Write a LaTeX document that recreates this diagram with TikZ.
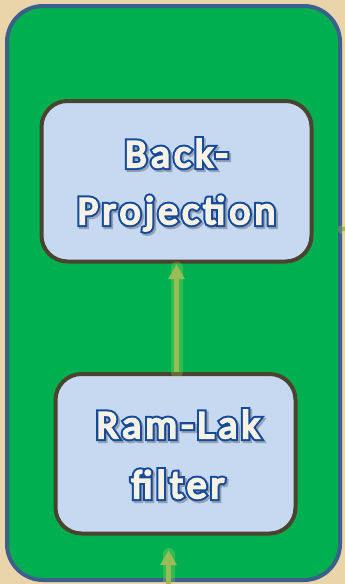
\documentclass[tikz,border=0pt]{standalone}
\usepackage{fontspec}
\setmainfont{Carlito}
\newfontfamily\strokefont[LetterSpace=10,FakeBold=15]{Carlito}
\newfontfamily\shadefont[LetterSpace=10,FakeBold=15]{Carlito}
\newfontfamily\labelfont[LetterSpace=10,FakeBold=5]{Carlito}
\usetikzlibrary{arrows.meta}

\definecolor{parchment}{HTML}{E9D5A9}
\definecolor{framegreen}{HTML}{00B050}
\definecolor{frameblue}{HTML}{3C5F8C}
\definecolor{boxfill}{HTML}{C6D9F1}
\definecolor{boxedge}{HTML}{4A4330}
\definecolor{arrowgreen}{HTML}{9BBB59}
\definecolor{glowgreen}{HTML}{C4E05A}
\definecolor{textcream}{HTML}{F6F3E6}
\definecolor{textblue}{HTML}{15499A}
\definecolor{shadowgray}{HTML}{95A0B2}

\tikzset{
  frame/.style={draw=frameblue, fill=framegreen, line width=4pt,
    rounded corners=36pt, inner sep=0pt},
  stepbox/.style={draw=boxedge, fill=boxfill, line width=4pt,
    rounded corners=26pt, inner sep=0pt},
  lbl/.style={anchor=base, inner sep=0pt, font=\fontsize{40}{40}\selectfont},
  flow/.style={draw=arrowgreen, line width=5.6pt,
    -{Triangle[width=15.5pt,length=15pt]}},
  glow/.style={draw=glowgreen, line width=12pt, opacity=.25, line cap=round},
}

% cream letters over a dark blue outline, with a grey drop shadow
\newcommand\outlined[1]{%
  \leavevmode
  \rlap{\kern1.8pt\raisebox{-2pt}{\shadefont\color{shadowgray}#1}}%
  \rlap{\strokefont\color{textblue}#1}%
  {\labelfont\color{textcream}#1}}

\begin{document}
\begin{tikzpicture}[x=1pt,y=-1pt]
  \fill[parchment] (0,0) rectangle (345,584);
  \useasboundingbox (0,0) rectangle (345,584);

  % outer container
  \node[frame, minimum width=333pt, minimum height=574pt] (box) at (173.5,293) {};

  % process steps
  \node[stepbox, minimum width=270pt, minimum height=160.5pt] (bp) at (176.5,181.25) {};
  \node[stepbox, minimum width=240pt, minimum height=159.5pt] (rl) at (175.5,453.75) {};

  % labels
  \node[lbl] (t1) at (176.5,167) {\outlined{Back-}};
  \node[lbl] (t2) at (176.5,224) {\outlined{Projection}};
  \node[lbl] (t3) at (178,438) {\outlined{Ram-Lak}};
  \node[lbl] (t4) at (178,498) {\outlined{filter}};

  % connectors
  \coordinate (up) at (rl.north -| bp.south);
  \coordinate (inlet) at (168.5,586);
  \coordinate (inletend) at (168.5,550);
  \coordinate (side) at (346,229);
  \coordinate (sideend) at (342,229);

  \draw[glow] (up) -- ([yshift=-4pt]bp.south);
  \draw[flow] (up) -- ([yshift=-0.5pt]bp.south);
  \draw[glow] (inlet) -- ([yshift=-4pt]inletend);
  \draw[flow] (inlet) -- (inletend);
  \draw[glow, line width=9pt] (side) -- (sideend);
  \draw[draw=arrowgreen, line width=4pt] (side) -- (sideend);
\end{tikzpicture}
\end{document}
